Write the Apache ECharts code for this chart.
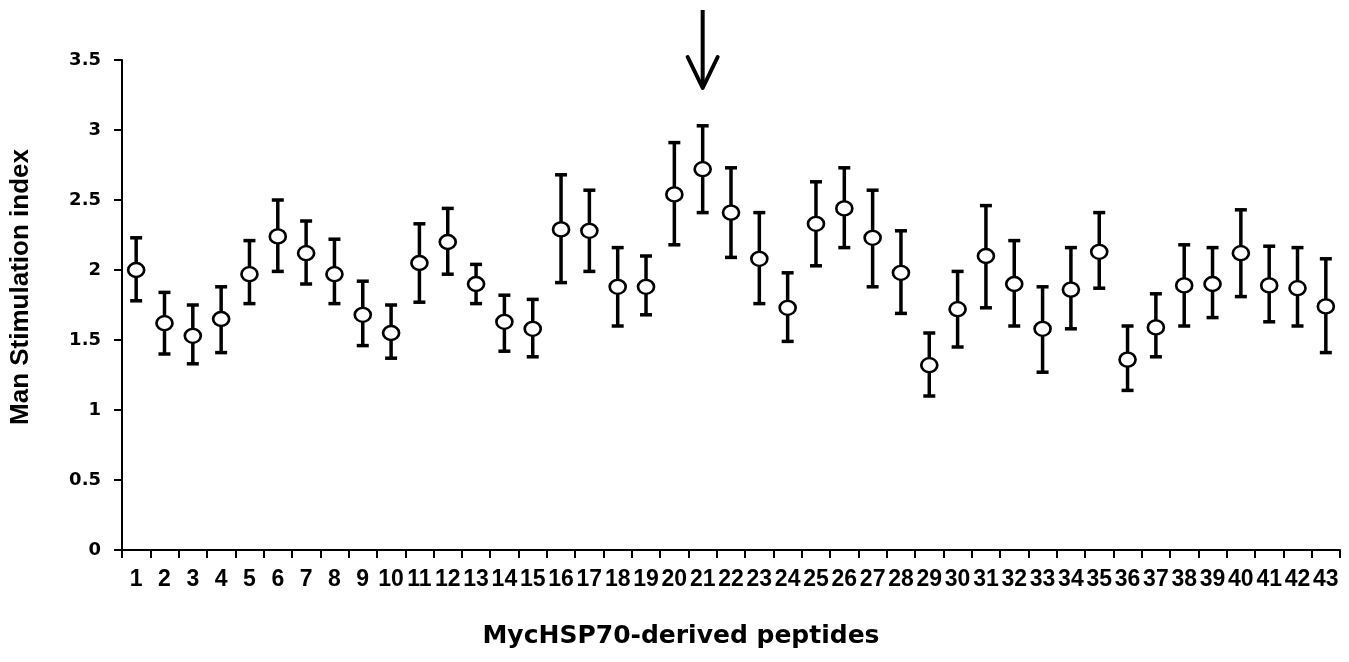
<!DOCTYPE html>
<html lang="en">
  <head>
    <meta charset="UTF-8" />
    <title>MycHSP70-derived peptides</title>
    <script src="https://cdn.jsdelivr.net/npm/echarts@6/dist/echarts.min.js"></script>
  </head>
  <body style="margin: 0">
    <div id="main" style="width: 1349px; height: 662px"></div>
    <script>
      // peptide numbers on the x axis
      const peptides = [
        '1', '2', '3', '4', '5', '6', '7', '8', '9', '10', '11', '12', '13', '14', '15',
        '16', '17', '18', '19', '20', '21', '22', '23', '24', '25', '26', '27', '28', '29',
        '30', '31', '32', '33', '34', '35', '36', '37', '38', '39', '40', '41', '42', '43',
      ];
      // mean stimulation index
      const means = [
        2.0, 1.62, 1.53, 1.65, 1.97, 2.24, 2.12, 1.97, 1.68, 1.55, 2.05, 2.2, 1.9, 1.63, 1.58,
        2.29, 2.28, 1.88, 1.88, 2.54, 2.72, 2.41, 2.08, 1.73, 2.33, 2.44, 2.23, 1.98, 1.32,
        1.72, 2.1, 1.9, 1.58, 1.86, 2.13, 1.36, 1.59, 1.89, 1.9, 2.12, 1.89, 1.87, 1.74,
      ];
      // top of each error bar
      const upper = [
        2.23, 1.84, 1.75, 1.88, 2.21, 2.5, 2.35, 2.22, 1.92, 1.75, 2.33, 2.44, 2.04, 1.82, 1.79,
        2.68, 2.57, 2.16, 2.1, 2.91, 3.03, 2.73, 2.41, 1.98, 2.63, 2.73, 2.57, 2.28, 1.55,
        1.99, 2.46, 2.21, 1.88, 2.16, 2.41, 1.6, 1.83, 2.18, 2.16, 2.43, 2.17, 2.16, 2.08,
      ];
      // bottom of each error bar
      const lower = [
        1.78, 1.4, 1.33, 1.41, 1.76, 1.99, 1.9, 1.76, 1.46, 1.37, 1.77, 1.97, 1.76, 1.42, 1.38,
        1.91, 1.99, 1.6, 1.68, 2.18, 2.41, 2.09, 1.76, 1.49, 2.03, 2.16, 1.88, 1.69, 1.1,
        1.45, 1.73, 1.6, 1.27, 1.58, 1.87, 1.14, 1.38, 1.6, 1.66, 1.81, 1.63, 1.6, 1.41,
      ];
      // the arrow marks this peptide, tip just above its bar
      const markedPeptide = '21';
      const arrowTipValue = 3.3;

      let myChart = echarts.init(document.getElementById('main'));

      let errorData = [];
      for (let i = 0; i < peptides.length; i++) {
        errorData.push([i, lower[i], upper[i]]);
      }

      let option = {
        animation: false,
        backgroundColor: '#fff',
        grid: { left: 120, right: 9, top: 60, bottom: 112 },
        xAxis: {
          type: 'category',
          data: peptides,
          boundaryGap: true,
          name: 'MycHSP70-derived peptides',
          nameLocation: 'middle',
          nameGap: 74,
          nameTextStyle: {
            color: '#000',
            fontFamily: 'DejaVu Sans',
            fontWeight: 'bold',
            fontSize: 25,
            padding: [0, 100, 0, 0],
          },
          axisLine: { lineStyle: { color: '#000', width: 2 } },
          axisTick: { show: true, length: 8, lineStyle: { color: '#000', width: 2 } },
          axisLabel: {
            interval: 0,
            margin: 18,
            color: '#000',
            fontFamily: 'Liberation Sans',
            fontWeight: 'bold',
            fontSize: 23,
          },
          splitLine: { show: false },
        },
        yAxis: {
          type: 'value',
          min: 0,
          max: 3.5,
          interval: 0.5,
          name: 'Man Stimulation index',
          nameLocation: 'middle',
          nameGap: 88,
          nameTextStyle: {
            color: '#000',
            fontFamily: 'Liberation Sans',
            fontWeight: 'bold',
            fontSize: 26,
            padding: [0, 0, 0, 36],
          },
          axisLine: { show: true, lineStyle: { color: '#000', width: 2 } },
          axisTick: { show: true, length: 8, lineStyle: { color: '#000', width: 2 } },
          axisLabel: {
            margin: 21,
            color: '#000',
            fontFamily: 'DejaVu Sans',
            fontWeight: 'bold',
            fontSize: 18,
          },
          splitLine: { show: false },
        },
        series: [
          {
            type: 'custom',
            data: errorData,
            z: 2,
            renderItem: function (params, api) {
              let idx = api.value(0);
              let low = api.coord([idx, api.value(1)]);
              let high = api.coord([idx, api.value(2)]);
              let capHalf = 6;
              let style = { stroke: '#000', lineWidth: 3.5 };
              return {
                type: 'group',
                children: [
                  { type: 'line', shape: { x1: low[0], y1: low[1], x2: high[0], y2: high[1] }, style: style },
                  { type: 'line', shape: { x1: low[0] - capHalf, y1: low[1], x2: low[0] + capHalf, y2: low[1] }, style: style },
                  { type: 'line', shape: { x1: high[0] - capHalf, y1: high[1], x2: high[0] + capHalf, y2: high[1] }, style: style },
                ],
              };
            },
          },
          {
            type: 'scatter',
            data: means,
            z: 3,
            symbol: 'circle',
            symbolSize: [16, 14],
            itemStyle: { color: '#fff', borderColor: '#000', borderWidth: 2.5, opacity: 1 },
          },
        ],
      };
      myChart.setOption(option);

      // arrow above the marked peptide
      let tip = myChart.convertToPixel({ xAxisIndex: 0, yAxisIndex: 0 }, [markedPeptide, arrowTipValue]);
      myChart.setOption({
        graphic: [
          {
            type: 'group',
            children: [
              {
                type: 'line',
                shape: { x1: tip[0], y1: tip[1] - 78, x2: tip[0], y2: tip[1] - 2 },
                style: { stroke: '#000', lineWidth: 4 },
              },
              {
                type: 'polyline',
                shape: { points: [[tip[0] - 15, tip[1] - 31], [tip[0], tip[1]], [tip[0] + 15, tip[1] - 31]] },
                style: { stroke: '#000', lineWidth: 4, fill: null, lineJoin: 'round', lineCap: 'round' },
              },
            ],
          },
        ],
      });
    </script>
  </body>
</html>
